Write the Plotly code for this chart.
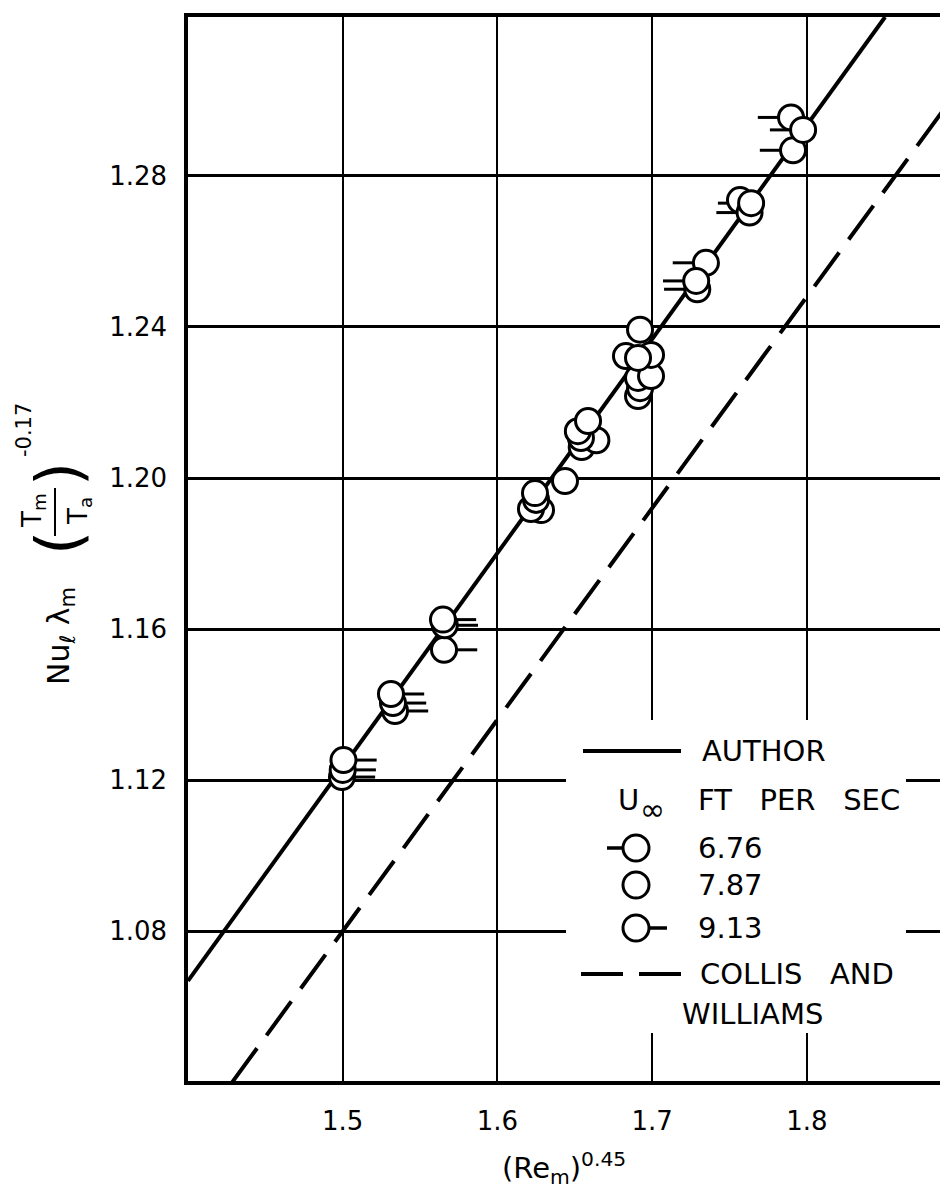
import plotly.graph_objects as go

# ---------------- data ----------------
# U_inf = 6.76 ft/s (tick on the left of the circle)
x_676 = [1.7898, 1.7911, 1.7976, 1.7630, 1.7640, 1.7348, 1.7292, 1.7285]
y_676 = [1.2955, 1.2868, 1.2922, 1.2703, 1.2728, 1.2570, 1.2500, 1.2522]

# U_inf = 7.87 ft/s (plain circle)
x_787 = [1.7568, 1.6909, 1.6922, 1.6909, 1.6993, 1.6831, 1.6993, 1.6909, 1.6922,
         1.6545, 1.6640, 1.6540, 1.6520, 1.6586, 1.6437,
         1.6282, 1.6217, 1.6250, 1.6243]
y_787 = [1.2736, 1.2217, 1.2238, 1.2265, 1.2270, 1.2323, 1.2326, 1.2318, 1.2393,
         1.2082, 1.2100, 1.2106, 1.2124, 1.2151, 1.1992,
         1.1915, 1.1918, 1.1942, 1.1960]

# U_inf = 9.13 ft/s (tick on the right of the circle)
x_913 = [1.4995, 1.5000, 1.5005, 1.5338, 1.5325, 1.5312, 1.5655, 1.5660, 1.5648]
y_913 = [1.1208, 1.1227, 1.1253, 1.1383, 1.1404, 1.1428, 1.1545, 1.1610, 1.1625]

# correlation lines
author_x = [1.400, 1.8506]
author_y = [1.0668, 1.3221]
collis_x = [1.4286, 1.8964]
collis_y = [1.0400, 1.3020]

x_ticks = [1.5, 1.6, 1.7, 1.8]
x_ticktext = ["1.5", "1.6", "1.7", "1.8"]
y_ticks = [1.08, 1.12, 1.16, 1.20, 1.24, 1.28]
y_ticktext = ["1.08", "1.12", "1.16", "1.20", "1.24", "1.28"]

legend_speeds = ["6.76", "7.87", "9.13"]

# ---------------- layout geometry ----------------
W, H = 948, 1191
L, R, T, B = 180, 948, 9, 1073
PX_PER_X = 1547.0
X0 = 1.40
X1 = X0 + (R - L) / PX_PER_X
Y0, Y1 = 1.0403, 1.3221
FONT = "DejaVu Sans"
SP = "\u00a0\u00a0 "


def fx(px):
    return (px - L) / (R - L)


def fy(py):
    return (B - py) / (B - T)


tick_dx = 22.0 / PX_PER_X  # offset of the small velocity tick from circle centre

circle_marker = dict(symbol="circle", size=25, color="white",
                     line=dict(color="black", width=3))
tick_marker = dict(symbol="line-ew", size=16, color="black",
                   line=dict(color="black", width=3))

fig = go.Figure()
fig.add_trace(go.Scatter(x=collis_x, y=collis_y, mode="lines",
                         line=dict(color="black", width=4, dash="42px,16px")))
fig.add_trace(go.Scatter(x=author_x, y=author_y, mode="lines",
                         line=dict(color="black", width=4)))
# ticks
fig.add_trace(go.Scatter(x=[v - tick_dx for v in x_676], y=y_676, mode="markers",
                         marker=tick_marker))
fig.add_trace(go.Scatter(x=[v + tick_dx for v in x_913], y=y_913, mode="markers",
                         marker=tick_marker))
# circles
fig.add_trace(go.Scatter(x=x_787, y=y_787, mode="markers", marker=circle_marker))
fig.add_trace(go.Scatter(x=x_913, y=y_913, mode="markers", marker=circle_marker))
fig.add_trace(go.Scatter(x=x_676, y=y_676, mode="markers", marker=circle_marker))

ann = []


def text(s, x, y, size=29, xanchor="left", angle=0):
    ann.append(dict(text=s, x=fx(x), y=fy(y), xref="paper", yref="paper",
                    showarrow=False, xanchor=xanchor, yanchor="middle",
                    textangle=angle,
                    font=dict(family=FONT, size=size, color="black")))


# legend texts
text("AUTHOR", 692, 743)
text("U", 608, 792)
text("∞", 630, 801, size=30)
text("FT" + SP + "PER" + SP + "SEC", 688, 792)
text(legend_speeds[0], 688, 840)
text(legend_speeds[1], 688, 877)
text(legend_speeds[2], 688, 920)
text("COLLIS" + SP + "AND", 690, 966)
text("WILLIAMS", 744, 1006, xanchor="center")

# x-axis title
text("(Re<sub>m</sub>)<sup>0.45</sup>", 556, 1160, size=29, xanchor="center")

# y-axis title pieces
text("Nu<sub>ℓ</sub> λ<sub>m</sub>", 52, 628, size=30, xanchor="center", angle=-90)
text("(", 50, 535, size=62, xanchor="center", angle=-90)
text("T<sub>m</sub>", 25, 503, size=26, xanchor="center", angle=-90)
text("T<sub>a</sub>", 71, 503, size=26, xanchor="center", angle=-90)
text(")", 50, 466, size=62, xanchor="center", angle=-90)
text("-0.17", 16, 422, size=21, xanchor="center", angle=-90)

shapes = []
# white area behind the legend (hides gridlines)
shapes.append(dict(type="rect", xref="paper", yref="paper",
                   x0=fx(558), x1=fx(898), y0=fy(1025), y1=fy(712),
                   fillcolor="white", line=dict(width=0), layer="above"))
# legend line samples
shapes.append(dict(type="line", xref="paper", yref="paper",
                   x0=fx(575), x1=fx(673), y0=fy(743), y1=fy(743),
                   line=dict(color="black", width=4), layer="above"))
shapes.append(dict(type="line", xref="paper", yref="paper",
                   x0=fx(573), x1=fx(673), y0=fy(966), y1=fy(966),
                   line=dict(color="black", width=4, dash="42px,16px"), layer="above"))
# legend circles
for yy in (840, 877, 920):
    shapes.append(dict(type="circle", xref="paper", yref="paper",
                       xsizemode="pixel", ysizemode="pixel",
                       xanchor=fx(628), yanchor=fy(yy),
                       x0=-13, x1=13, y0=-13, y1=13,
                       fillcolor="white", line=dict(color="black", width=3),
                       layer="above"))
shapes.append(dict(type="line", xref="paper", yref="paper",
                   x0=fx(599), x1=fx(615), y0=fy(840), y1=fy(840),
                   line=dict(color="black", width=3.5), layer="above"))
shapes.append(dict(type="line", xref="paper", yref="paper",
                   x0=fx(641), x1=fx(659), y0=fy(920), y1=fy(920),
                   line=dict(color="black", width=3.5), layer="above"))
# fraction bar in the y title
shapes.append(dict(type="line", xref="paper", yref="paper",
                   x0=fx(47), x1=fx(47), y0=fy(528), y1=fy(480),
                   line=dict(color="black", width=2)))

fig.update_layout(
    width=W, height=H,
    margin=dict(l=L, r=W - R, t=T, b=H - B, pad=0),
    paper_bgcolor="white", plot_bgcolor="white",
    showlegend=False,
    font=dict(family=FONT, size=26, color="black"),
    annotations=ann, shapes=shapes,
)
fig.update_xaxes(range=[X0, X1], tickvals=x_ticks, ticktext=x_ticktext,
                 showgrid=True, gridcolor="black", gridwidth=2,
                 showline=True, linecolor="black", linewidth=4, mirror=True,
                 zeroline=False, ticks="", ticklabelstandoff=14,
                 tickfont=dict(family=FONT, size=26, color="black"))
fig.update_yaxes(range=[Y0, Y1], tickvals=y_ticks, ticktext=y_ticktext,
                 showgrid=True, gridcolor="black", gridwidth=3,
                 showline=True, linecolor="black", linewidth=3.5, mirror=False,
                 zeroline=False, ticks="", ticklabelstandoff=12,
                 tickfont=dict(family=FONT, size=26, color="black"))

fig.write_html("out.html")
